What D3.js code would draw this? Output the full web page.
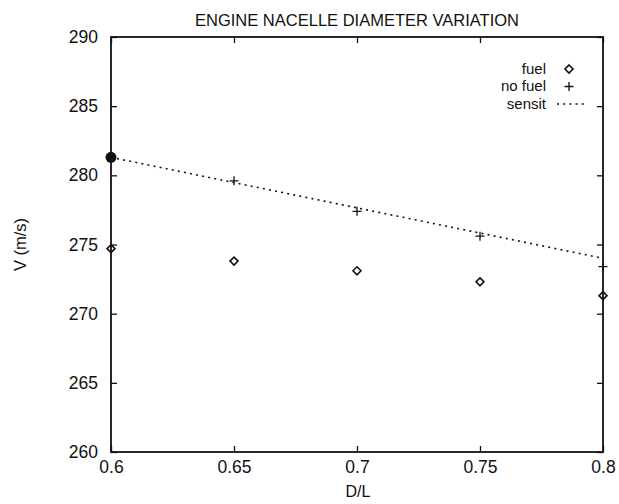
<!DOCTYPE html>
<html>
<head>
<meta charset="utf-8">
<script src="https://cdn.jsdelivr.net/npm/d3@7/dist/d3.min.js"></script>
<style>
  html, body { margin: 0; padding: 0; background: #fff; }
  svg { display: block; font-family: "Liberation Sans", Arial, Helvetica, sans-serif; }
</style>
</head>
<body>
<svg id="chart" width="619" height="504"></svg>
<script>
// D/L ratios and flight speeds V (m/s)
const dl = [0.6, 0.65, 0.7, 0.75, 0.8];
const fuel = [274.7, 273.8, 273.1, 272.3, 271.3];
const noFuel = [281.3, 279.6, 277.4, 275.6, 273.4];
const sensitX = [0.6, 0.8];
const sensitV = [281.3, 274.0];
const basePoint = [0.6, 281.3];

const xTicks = [0.6, 0.65, 0.7, 0.75, 0.8];
const yTicks = [260, 265, 270, 275, 280, 285, 290];
const legendItems = ["fuel", "no fuel", "sensit"];

const svg = d3.select("#chart");
const L = 111, R = 603, T = 37, B = 452;

const x = d3.scaleLinear().domain([0.6, 0.8]).range([L, R]);
const y = d3.scaleLinear().domain([260, 290]).range([B, T]);

const ink = "#111";
const tickLen = 6;

// frame ticks (inward, on all four sides)
const yAxisL = d3.axisLeft(y).tickValues(yTicks).tickSize(-tickLen).tickPadding(13)
  .tickFormat(d3.format("d"));
const yAxisR = d3.axisRight(y).tickValues(yTicks).tickSize(-tickLen).tickFormat("");
const xAxisB = d3.axisBottom(x).tickValues(xTicks).tickSize(-tickLen).tickPadding(9)
  .tickFormat(d => d3.format("")(d));
const xAxisT = d3.axisTop(x).tickValues(xTicks).tickSize(-tickLen).tickFormat("");

function style(g) {
  g.select(".domain").remove();
  g.selectAll(".tick line").attr("stroke", ink).attr("stroke-width", 1.3);
  g.selectAll(".tick text").attr("fill", ink).attr("font-size", 17.5)
    .attr("font-family", "'Liberation Sans', Arial, sans-serif");
}
svg.append("g").attr("transform", `translate(${L},0)`).call(yAxisL).call(style);
svg.append("g").attr("transform", `translate(${R},0)`).call(yAxisR).call(style);
svg.append("g").attr("transform", `translate(0,${B})`).call(xAxisB).call(style);
svg.append("g").attr("transform", `translate(0,${T})`).call(xAxisT).call(style);

// plot frame
svg.append("rect")
  .attr("x", L).attr("y", T).attr("width", R - L).attr("height", B - T)
  .attr("fill", "none").attr("stroke", ink).attr("stroke-width", 1.8);

// title and axis labels
svg.append("text").attr("x", (L + R) / 2).attr("y", 26)
  .attr("text-anchor", "middle").attr("font-size", 16.5).attr("fill", ink)
  .text("ENGINE NACELLE DIAMETER VARIATION");
svg.append("text").attr("x", (L + R) / 2 + 1).attr("y", 497)
  .attr("text-anchor", "middle").attr("font-size", 16).attr("fill", ink)
  .text("D/L");
svg.append("text")
  .attr("transform", `translate(26,${(T + B) / 2}) rotate(-90)`)
  .attr("text-anchor", "middle").attr("font-size", 16.5).attr("fill", ink)
  .text("V (m/s)");

// sensitivity line
svg.append("path")
  .datum(d3.zip(sensitX, sensitV))
  .attr("d", d3.line().x(d => x(d[0])).y(d => y(d[1])))
  .attr("fill", "none").attr("stroke", ink).attr("stroke-width", 1.6)
  .attr("stroke-dasharray", "2,4.2");

// markers
const diamond = (cx, cy, r) => `M${cx},${cy - r}L${cx + r},${cy}L${cx},${cy + r}L${cx - r},${cy}Z`;
const plus = (cx, cy, r) => `M${cx - r},${cy}H${cx + r}M${cx},${cy - r}V${cy + r}`;

svg.append("g").selectAll("path").data(d3.zip(dl, fuel)).join("path")
  .attr("d", d => diamond(x(d[0]), y(d[1]), 4))
  .attr("fill", "none").attr("stroke", ink).attr("stroke-width", 1.6);

svg.append("g").selectAll("path").data(d3.zip(dl, noFuel)).join("path")
  .attr("d", d => plus(x(d[0]), y(d[1]), 4.5))
  .attr("fill", "none").attr("stroke", ink).attr("stroke-width", 1.3);

svg.append("circle")
  .attr("cx", x(basePoint[0])).attr("cy", y(basePoint[1])).attr("r", 5.5)
  .attr("fill", ink);

// legend
const lg = svg.append("g");
legendItems.forEach((name, i) => {
  const cy = 68 + i * 17.5;
  lg.append("text").attr("x", 546).attr("y", cy + 5.5)
    .attr("text-anchor", "end").attr("font-size", 15).attr("fill", ink).text(name);
  if (name === "fuel") {
    lg.append("path").attr("d", diamond(569, cy + 1, 4))
      .attr("fill", "none").attr("stroke", ink).attr("stroke-width", 1.6);
  } else if (name === "no fuel") {
    lg.append("path").attr("d", plus(569, cy + 1, 4.5))
      .attr("fill", "none").attr("stroke", ink).attr("stroke-width", 1.3);
  } else {
    lg.append("line").attr("x1", 557).attr("x2", 584).attr("y1", cy + 1).attr("y2", cy + 1)
      .attr("stroke", ink).attr("stroke-width", 1.6).attr("stroke-dasharray", "2,4.2");
  }
});
</script>
</body>
</html>
